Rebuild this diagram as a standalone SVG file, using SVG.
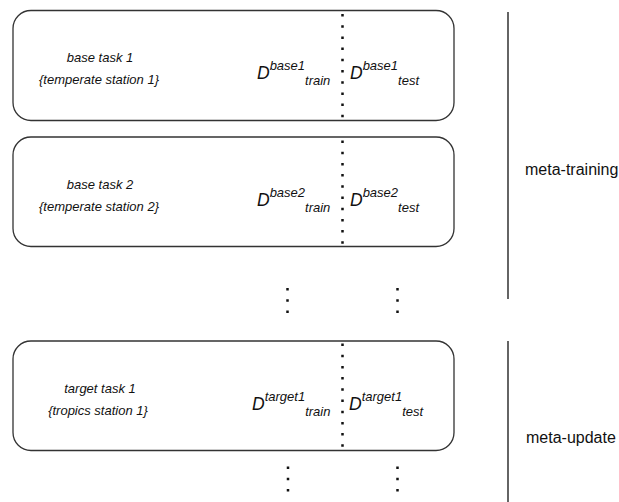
<svg xmlns="http://www.w3.org/2000/svg" width="619" height="502" viewBox="0 0 619 502">
<style>
.box{fill:#fff;stroke:#333;stroke-width:1.3}
.lbl{font-family:"Liberation Sans",Arial,sans-serif;font-size:13px;font-style:italic;fill:#111;text-anchor:middle}
.d{font-family:"Liberation Sans",Arial,sans-serif;font-style:italic;fill:#111}
.D{font-size:17.5px}
.s{font-size:13px}
.side{font-family:"Liberation Sans",Arial,sans-serif;font-size:16px;fill:#111}
.dots{stroke:#111;stroke-width:2.5;stroke-dasharray:2.5 8.7;fill:none}
.bar{stroke:#111;stroke-width:1.3}
</style>
<rect width="619" height="502" fill="#fff"/>
<g id="base1">
<rect class="box" x="13" y="10.5" width="441" height="110" rx="18"/>
<text class="lbl" x="100" y="62">base task 1</text>
<text class="lbl" x="99" y="84">{temperate station 1}</text>
<text class="d" x="257" y="79"><tspan class="D">D</tspan><tspan class="s" dy="-9">base1</tspan><tspan class="s" dy="15">train</tspan></text>
<text class="d" x="350" y="79"><tspan class="D">D</tspan><tspan class="s" dy="-9">base1</tspan><tspan class="s" dy="15">test</tspan></text>
<line class="dots" x1="342.5" y1="14" x2="342.5" y2="120"/>
</g>
<g id="base2">
<rect class="box" x="13" y="137" width="441" height="109.5" rx="18"/>
<text class="lbl" x="100" y="189">base task 2</text>
<text class="lbl" x="99" y="211">{temperate station 2}</text>
<text class="d" x="257" y="206"><tspan class="D">D</tspan><tspan class="s" dy="-9">base2</tspan><tspan class="s" dy="15">train</tspan></text>
<text class="d" x="350" y="206"><tspan class="D">D</tspan><tspan class="s" dy="-9">base2</tspan><tspan class="s" dy="15">test</tspan></text>
<line class="dots" x1="342.5" y1="140.5" x2="342.5" y2="246"/>
</g>
<g id="target1">
<rect class="box" x="13" y="341" width="441" height="109.5" rx="18"/>
<text class="lbl" x="100" y="393">target task 1</text>
<text class="lbl" x="98" y="415">{tropics station 1}</text>
<text class="d" x="252" y="410"><tspan class="D">D</tspan><tspan class="s" dy="-9">target1</tspan><tspan class="s" dy="15">train</tspan></text>
<text class="d" x="349" y="410"><tspan class="D">D</tspan><tspan class="s" dy="-9">target1</tspan><tspan class="s" dy="15">test</tspan></text>
<line class="dots" x1="342.5" y1="343.5" x2="342.5" y2="450"/>
</g>
<g id="ellipsis">
<line class="dots" x1="287.5" y1="288" x2="287.5" y2="313"/>
<line class="dots" x1="397.5" y1="288" x2="397.5" y2="313"/>
<line class="dots" x1="288" y1="466.5" x2="288" y2="492"/>
<line class="dots" x1="397.5" y1="466.5" x2="397.5" y2="492"/>
</g>
<g id="connectors">
<line class="bar" x1="508" y1="12" x2="508" y2="299"/>
<line class="bar" x1="508" y1="341" x2="508" y2="502"/>
</g>
<g id="phases">
<text class="side" x="525" y="175">meta-training</text>
<text class="side" x="526" y="443">meta-update</text>
</g>
</svg>
